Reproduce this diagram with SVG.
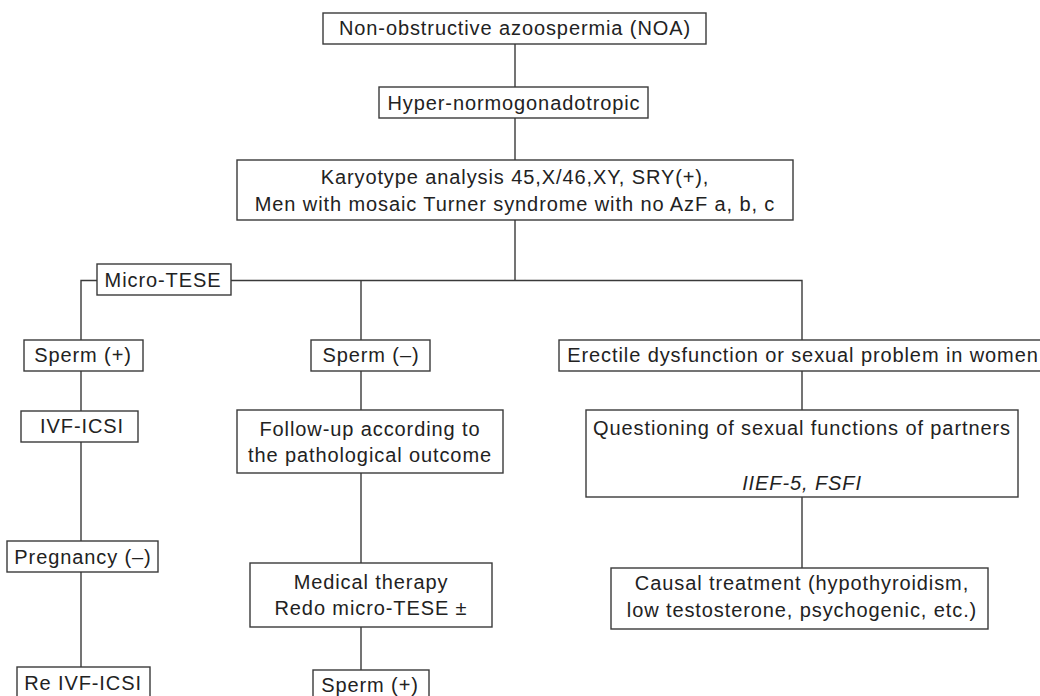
<svg xmlns="http://www.w3.org/2000/svg" width="1040" height="696" viewBox="0 0 1040 696">
<style>
.box{fill:#fff;stroke:#3a3a3a;stroke-width:1.4}
.t{font-family:"Liberation Sans",Arial,sans-serif;font-size:20px;letter-spacing:0.9px;fill:#222;text-anchor:middle}
.i{font-style:italic}
.c{fill:none;stroke:#3a3a3a;stroke-width:1.4}
</style>
<rect width="1040" height="696" fill="#fff"/>
<g id="connectors">
<path class="c" d="M515 44V87M515 118V160M515 220V280.5"/>
<path class="c" d="M97 280.5H81V340M231 280.5H802V340M361 280.5V340"/>
<path class="c" d="M81 371V411M81 442V541M81 572V667"/>
<path class="c" d="M361 371V410M361 473V563M361 627V670"/>
<path class="c" d="M802 371V410M802 497V568"/>
</g>
<g id="noa"><rect class="box" x="323" y="13" width="383" height="31"/><text class="t" x="515" y="35">Non-obstructive azoospermia (NOA)</text></g>
<g id="hyper"><rect class="box" x="379" y="87" width="269" height="31"/><text class="t" x="514" y="110">Hyper-normogonadotropic</text></g>
<g id="karyotype"><rect class="box" x="237" y="160" width="556" height="60"/><text class="t" x="515" y="184">Karyotype analysis 45,X/46,XY, SRY(+),</text><text class="t" x="515" y="211">Men with mosaic Turner syndrome with no AzF a, b, c</text></g>
<g id="microtese"><rect class="box" x="97" y="264" width="134" height="31"/><text class="t" x="163" y="287">Micro-TESE</text></g>
<g id="spermpos"><rect class="box" x="24" y="340" width="119" height="31"/><text class="t" x="83" y="362">Sperm (+)</text></g>
<g id="spermneg"><rect class="box" x="311" y="340" width="119" height="31"/><text class="t" x="371" y="362">Sperm (–)</text></g>
<g id="erectile"><rect class="box" x="559" y="340" width="495" height="31"/><text class="t" x="803" y="362">Erectile dysfunction or sexual problem in women</text></g>
<g id="ivf"><rect class="box" x="21" y="411" width="117" height="31"/><text class="t" x="82" y="433">IVF-ICSI</text></g>
<g id="followup"><rect class="box" x="237" y="410" width="266" height="63"/><text class="t" x="370" y="436">Follow-up according to</text><text class="t" x="370" y="462">the pathological outcome</text></g>
<g id="questioning"><rect class="box" x="586" y="410" width="432" height="87"/><text class="t" x="802" y="435">Questioning of sexual functions of partners</text><text class="t i" x="802" y="490">IIEF-5, FSFI</text></g>
<g id="pregnancy"><rect class="box" x="7" y="541" width="151" height="31"/><text class="t" x="83" y="564">Pregnancy (–)</text></g>
<g id="medical"><rect class="box" x="250" y="563" width="242" height="64"/><text class="t" x="371" y="589">Medical therapy</text><text class="t" x="371" y="615">Redo micro-TESE ±</text></g>
<g id="causal"><rect class="box" x="611" y="568" width="377" height="61"/><text class="t" x="802" y="590">Causal treatment (hypothyroidism,</text><text class="t" x="802" y="617">low testosterone, psychogenic, etc.)</text></g>
<g id="reivf"><rect class="box" x="17" y="667" width="133" height="40"/><text class="t" x="83" y="690">Re IVF-ICSI</text></g>
<g id="spermpos2"><rect class="box" x="313" y="670" width="116" height="40"/><text class="t" x="370" y="692">Sperm (+)</text></g>
</svg>
